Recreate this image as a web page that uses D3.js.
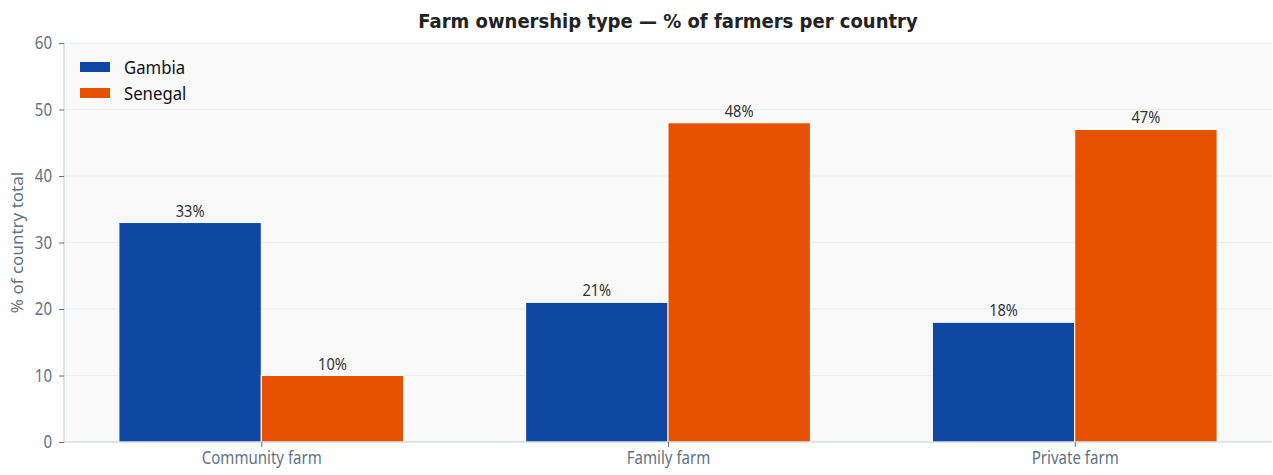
<!DOCTYPE html>
<html>
<head>
<meta charset="utf-8">
<script src="https://cdn.jsdelivr.net/npm/d3@7"></script>
<style>
  html, body { margin: 0; padding: 0; background: #fff; }
  svg { display: block; font-family: "Noto Sans", sans-serif; }
</style>
</head>
<body>
<svg id="chart" width="1273" height="475"></svg>
<script>
// Ownership categories and share of farmers (%) in each country
const categories = ["Community farm", "Family farm", "Private farm"];
const gambia = [33, 21, 18];
const senegal = [10, 48, 47];
const seriesNames = ["Gambia", "Senegal"];
const yTicks = [0, 10, 20, 30, 40, 50, 60];

const colors = { Gambia: "#0d47a1", Senegal: "#e65100" };
const series = [
  { name: seriesNames[0], values: gambia, offset: -0.175 },
  { name: seriesNames[1], values: senegal, offset: 0.175 }
];

const W = 1273, H = 475;
const margin = { left: 64, right: 1, top: 43, bottom: 33 };
const plotW = W - margin.left - margin.right;
const plotH = H - margin.top - margin.bottom;
const barW = 0.35;
const narrow = 0.86; // horizontal squeeze for the condensed label text

const svg = d3.select("#chart");
const g = svg.append("g").attr("transform", `translate(${margin.left},${margin.top})`);

const x = d3.scaleLinear().domain([-0.485, 2.485]).range([0, plotW]);
const y = d3.scaleLinear().domain([0, 60]).range([plotH, 0]);

// plot background
g.append("rect").attr("width", plotW).attr("height", plotH).attr("fill", "#f9f9fa");

// horizontal grid
g.append("g").selectAll("line").data(yTicks).join("line")
  .attr("x1", 0).attr("x2", plotW)
  .attr("y1", d => y(d)).attr("y2", d => y(d))
  .attr("stroke", "#e8ebee").attr("stroke-width", 0.8);

// bars with value labels
series.forEach(s => {
  g.append("g").selectAll("rect").data(s.values).join("rect")
    .attr("x", (d, i) => x(i + s.offset - barW / 2))
    .attr("width", (d, i) => x(i + s.offset + barW / 2) - x(i + s.offset - barW / 2))
    .attr("y", d => y(d))
    .attr("height", d => y(0) - y(d))
    .attr("fill", colors[s.name])
    .attr("stroke", "#ffffff").attr("stroke-width", 1);

  g.append("g").selectAll("g").data(s.values).join("g")
    .attr("transform", (d, i) => `translate(${x(i + s.offset)},${y(d) - 6})`)
    .append("text")
    .attr("transform", `scale(${narrow},1)`)
    .attr("text-anchor", "middle")
    .attr("font-size", 17)
    .attr("fill", "#333333")
    .text(d => d + "%");
});

// axes
const yAxis = d3.axisLeft(y).tickValues(yTicks).tickSize(5).tickPadding(6);
const xAxis = d3.axisBottom(x).tickValues([0, 1, 2]).tickFormat(i => categories[i]).tickSize(5).tickPadding(5);

const axisColor = "#ccd3d9";
const labelColor = "#5f7383";

const ya = g.append("g").call(yAxis);
const xa = g.append("g").attr("transform", `translate(0,${plotH})`).call(xAxis);
[ya, xa].forEach(a => {
  a.select(".domain").attr("stroke", axisColor).attr("stroke-width", 1.2);
  a.selectAll(".tick line").attr("stroke", "#5f7383");
  a.selectAll(".tick text")
    .attr("fill", labelColor).attr("font-size", 17.5).attr("font-family", "Noto Sans")
    .attr("transform", `scale(${narrow},1)`);
});
ya.selectAll(".tick text").attr("x", -12 / narrow);
xa.select(".domain").attr("d", `M0,0H${plotW}`);
ya.select(".domain").attr("d", `M0,${plotH}V0`);

// y label
svg.append("text")
  .attr("transform", `translate(23,${margin.top + plotH / 2}) rotate(-90)`)
  .attr("text-anchor", "middle")
  .attr("font-size", 17)
  .attr("fill", labelColor)
  .text("% of country total");

// title
svg.append("text")
  .attr("transform", `translate(${margin.left + plotW / 2},28) scale(0.9,1)`)
  .attr("text-anchor", "middle")
  .attr("font-family", "DejaVu Sans")
  .attr("font-size", 20)
  .attr("font-weight", "bold")
  .attr("fill", "#222222")
  .text("Farm ownership type \u2014 % of farmers per country");

// legend
const legend = g.append("g").attr("transform", "translate(16,19)");
seriesNames.forEach((name, i) => {
  const row = legend.append("g").attr("transform", `translate(0,${i * 26})`);
  row.append("rect").attr("width", 30).attr("height", 10).attr("fill", colors[name]);
  row.append("text").attr("x", 44).attr("y", 12)
    .attr("transform", "translate(44,0) scale(0.93,1) translate(-44,0)")
    .attr("font-size", 18).attr("fill", "#111").text(name);
});
</script>
</body>
</html>
